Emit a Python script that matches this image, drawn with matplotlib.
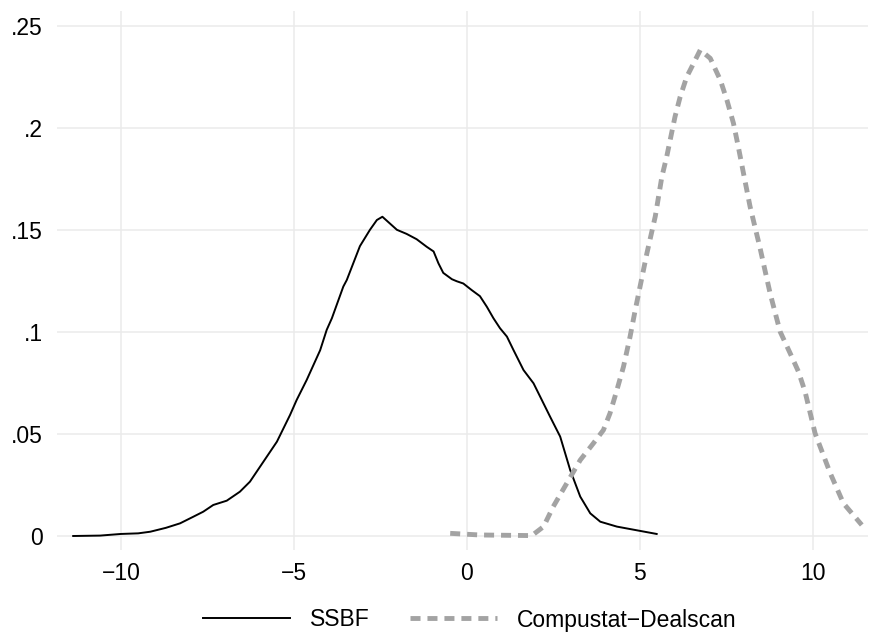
import matplotlib
matplotlib.use("Agg")
import matplotlib.pyplot as plt

plt.rcParams['font.family'] = ['Liberation Sans', 'DejaVu Sans']

ssbf_x = [-11.38, -10.6, -10.0, -9.5, -9.15, -8.7, -8.29, -7.9, -7.62, -7.33, -6.94,
          -6.56, -6.27, -5.88, -5.49, -5.11, -4.92, -4.63, -4.24, -4.05, -3.90, -3.57,
          -3.47, -3.09, -2.80, -2.60, -2.44, -2.23, -2.02, -1.74, -1.45, -1.16, -0.96,
          -0.82, -0.68, -0.43, -0.29, -0.10, 0.14, 0.38, 0.58, 0.77, 0.96, 1.16, 1.35,
          1.64, 1.93, 2.41, 2.70, 2.99, 3.28, 3.57, 3.86, 4.34, 5.01, 5.49]
ssbf_y = [0.0000, 0.0002, 0.0010, 0.0013, 0.0021, 0.0040, 0.0062, 0.0095, 0.0119, 0.0152, 0.0173,
          0.0217, 0.0266, 0.0364, 0.0462, 0.0593, 0.0666, 0.0764, 0.0910, 0.1010, 0.1067, 0.1222,
          0.1254, 0.1420, 0.1500, 0.1548, 0.1564, 0.1532, 0.1500, 0.1480, 0.1454, 0.1417, 0.1394,
          0.1336, 0.1289, 0.1258, 0.1248, 0.1237, 0.1205, 0.1175, 0.1123, 0.1067, 0.1018, 0.0977, 0.0911,
          0.0813, 0.0748, 0.0584, 0.0487, 0.0323, 0.0193, 0.0111, 0.0070, 0.0046, 0.0025, 0.0010]

cd_x = [-0.48, 0.38, 1.88, 2.22, 2.50, 2.89, 3.28, 3.66, 3.95, 4.14, 4.34, 4.53, 4.72, 4.87,
        5.21, 5.45, 5.64, 5.78, 5.88, 6.02, 6.17, 6.36, 6.46, 6.75, 7.04, 7.33, 7.52, 7.71,
        7.85, 8.00, 8.19, 8.48, 8.63, 8.77, 8.92, 9.06, 9.35, 9.59, 9.78, 10.07, 10.51, 10.89, 11.42]
cd_y = [0.0013, 0.0005, 0.0002, 0.0046, 0.0144, 0.0258, 0.0372, 0.0454, 0.0519, 0.0601, 0.0715,
        0.0829, 0.0976, 0.1107, 0.1387, 0.1566, 0.1760, 0.1858, 0.1940, 0.2054, 0.2152, 0.2250,
        0.2283, 0.2381, 0.2340, 0.2234, 0.2136, 0.2022, 0.1907, 0.1777, 0.1614, 0.1410, 0.1295,
        0.1189, 0.1091, 0.1001, 0.0895, 0.0805, 0.0707, 0.0503, 0.0307, 0.0160, 0.0054]

xticks = [-10, -5, 0, 5, 10]
xticklabels = ['\u221210', '\u22125', '0', '5', '10']
yticks = [0, 0.05, 0.1, 0.15, 0.2, 0.25]
yticklabels = ['0', '.05', '.1', '.15', '.2', '.25']

fs = 16.5
fig = plt.figure(figsize=(8.7, 6.32), dpi=100)
ax = fig.add_axes([57/870, 1-550/632, (868-57)/870, (550-11)/632])

ax.plot(ssbf_x, ssbf_y, color='black', lw=1.4, label='SSBF')
l2, = ax.plot(cd_x, cd_y, color='#A3A3A3', lw=3.5, label='Compustat\u2212Dealscan')
l2.set_dashes((2.06, 1.43))

ax.set_xlim(-11.848, 11.6)
ax.set_ylim(-0.00686, 0.2572)
ax.set_xticks(xticks)
ax.set_xticklabels(xticklabels)
ax.set_yticks(yticks)
ax.set_yticklabels(yticklabels)
ax.grid(True, color='#EBEBEB', lw=1.1)
ax.set_axisbelow(True)
for s in ax.spines.values():
    s.set_visible(False)
ax.tick_params(length=0, labelsize=fs, labelcolor='black')
ax.tick_params(axis='x', pad=8.4)
ax.tick_params(axis='y', pad=10)

fig.legend(loc='center', bbox_to_anchor=(470/870, 1-620/632), ncol=2, frameon=False,
           fontsize=fs, handlelength=3.8, columnspacing=1.75, handletextpad=0.87)

fig.savefig('out.png', dpi=100)
